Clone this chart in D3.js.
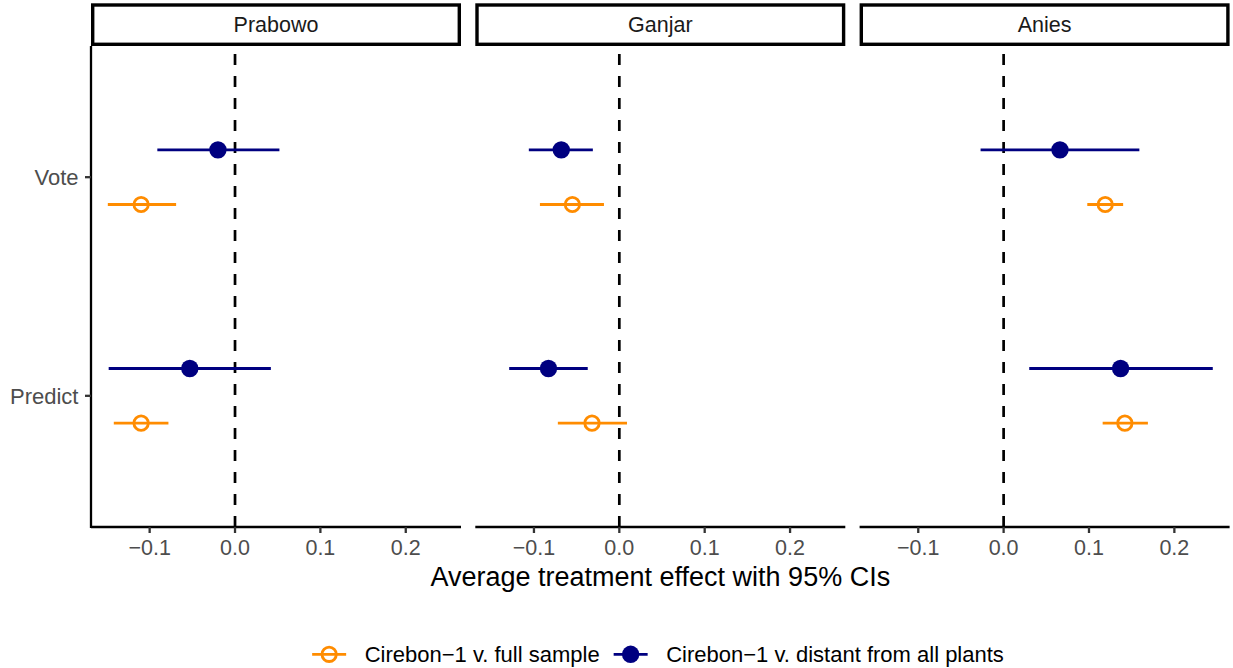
<!DOCTYPE html>
<html>
<head>
<meta charset="utf-8">
<script src="https://cdn.jsdelivr.net/npm/d3@7"></script>
<style>
  html, body { margin: 0; padding: 0; background: #fff; }
  svg { display: block; font-family: "Liberation Sans", Arial, Helvetica, sans-serif; }
</style>
</head>
<body>
<svg id="chart" width="1233" height="668"></svg>
<script>
// ---- Data ----
const candidates = ["Prabowo", "Ganjar", "Anies"];
const outcomes = ["Vote", "Predict"];
const seriesNames = ["Cirebon\u22121 v. full sample", "Cirebon\u22121 v. distant from all plants"];
const seriesColors = ["#FF8C00", "#000080"];
// values indexed [candidate][outcome] with outcome order Vote, Predict
const fullEst = [[-0.110, -0.110], [-0.055, -0.032], [0.119, 0.142]];
const fullLo  = [[-0.149, -0.142], [-0.093, -0.072], [0.098, 0.116]];
const fullHi  = [[-0.069, -0.078], [-0.018, 0.009], [0.140, 0.169]];
const distEst = [[-0.020, -0.053], [-0.068, -0.083], [0.066, 0.137]];
const distLo  = [[-0.091, -0.148], [-0.106, -0.129], [-0.027, 0.030]];
const distHi  = [[0.052, 0.042], [-0.031, -0.037], [0.159, 0.245]];
const xTicks = [-0.1, 0.0, 0.1, 0.2];
const axisTitle = "Average treatment effect with 95% CIs";

// ---- Build rows ----
const rows = [];
candidates.forEach((c, ci) => {
  outcomes.forEach((o, oi) => {
    rows.push({cand: c, outcome: o, series: 0, est: fullEst[ci][oi], lo: fullLo[ci][oi], hi: fullHi[ci][oi]});
    rows.push({cand: c, outcome: o, series: 1, est: distEst[ci][oi], lo: distLo[ci][oi], hi: distHi[ci][oi]});
  });
});

// ---- Layout ----
const svg = d3.select("#chart");
const panelW = 370, panelGap = 14.3, firstX = 91;
const plotTop = 46, plotBottom = 527;
const stripTop = 3.3;

const lo = d3.min(rows, d => d.lo), hi = d3.max(rows, d => d.hi);
const pad = (hi - lo) * 0.05;
const x = d3.scaleLinear().domain([lo - pad, hi + pad]).range([0, panelW]);
// discrete y: Predict = 1 (bottom), Vote = 2 (top), expanded 0.6
const yLevel = {Predict: 1, Vote: 2};
const y = d3.scaleLinear().domain([0.4, 2.6]).range([plotBottom, plotTop]);
const dodge = [-0.125, 0.125]; // full sample below, distant above

const fmt = d3.format(".1f");

candidates.forEach((cand, ci) => {
  const px = firstX + ci * (panelW + panelGap);
  const g = svg.append("g").attr("transform", `translate(${px},0)`);

  // strip
  g.append("rect")
    .attr("x", 1.7).attr("y", stripTop + 1.7)
    .attr("width", panelW - 3.4).attr("height", plotTop - stripTop - 3.4)
    .attr("fill", "#fff").attr("stroke", "#000").attr("stroke-width", 3.4);
  g.append("text")
    .attr("x", panelW / 2).attr("y", (stripTop + plotTop) / 2)
    .attr("dy", "0.35em").attr("text-anchor", "middle")
    .attr("font-size", 21.5).attr("fill", "#1A1A1A").text(cand);

  // zero reference line
  g.append("line")
    .attr("x1", x(0)).attr("x2", x(0))
    .attr("y1", plotBottom).attr("y2", plotTop)
    .attr("stroke", "#000").attr("stroke-width", 2.7)
    .attr("stroke-dasharray", "11,11");

  // error bars and points
  const pdata = rows.filter(r => r.cand === cand);
  g.selectAll("line.ci").data(pdata).enter().append("line")
    .attr("class", "ci")
    .attr("x1", d => x(d.lo)).attr("x2", d => x(d.hi))
    .attr("y1", d => y(yLevel[d.outcome] + dodge[d.series]))
    .attr("y2", d => y(yLevel[d.outcome] + dodge[d.series]))
    .attr("stroke", d => seriesColors[d.series]).attr("stroke-width", 2.8);
  g.selectAll("circle.pt").data(pdata).enter().append("circle")
    .attr("class", "pt")
    .attr("cx", d => x(d.est))
    .attr("cy", d => y(yLevel[d.outcome] + dodge[d.series]))
    .attr("r", d => d.series === 1 ? 8.7 : 7.2)
    .attr("fill", d => d.series === 1 ? seriesColors[1] : "none")
    .attr("stroke", d => seriesColors[d.series])
    .attr("stroke-width", d => d.series === 1 ? 0 : 2.8);

  // x axis
  const xa = g.append("g").attr("transform", `translate(0,${plotBottom})`);
  xa.append("line").attr("x1", 0).attr("x2", panelW).attr("y1", 0).attr("y2", 0)
    .attr("stroke", "#000").attr("stroke-width", 2.3);
  xa.selectAll("line.tick").data(xTicks).enter().append("line")
    .attr("class", "tick")
    .attr("x1", d => x(d)).attr("x2", d => x(d)).attr("y1", 0).attr("y2", 6)
    .attr("stroke", "#333").attr("stroke-width", 2.3);
  xa.selectAll("text").data(xTicks).enter().append("text")
    .attr("x", d => x(d)).attr("y", 28)
    .attr("text-anchor", "middle").attr("font-size", 21.5).attr("fill", "#4D4D4D")
    .text(d => fmt(d));

  // y axis only on first panel
  if (ci === 0) {
    g.append("line").attr("x1", 0).attr("x2", 0).attr("y1", plotTop).attr("y2", plotBottom + 1.1)
      .attr("stroke", "#000").attr("stroke-width", 2.3);
    outcomes.forEach(o => {
      g.append("line").attr("x1", -6).attr("x2", 0)
        .attr("y1", y(yLevel[o])).attr("y2", y(yLevel[o]))
        .attr("stroke", "#333").attr("stroke-width", 2.3);
      g.append("text").attr("x", -12.5).attr("y", y(yLevel[o])).attr("dy", "0.35em")
        .attr("text-anchor", "end").attr("font-size", 22).attr("fill", "#4D4D4D")
        .text(o);
    });
  }
});

// axis title
const totalRight = firstX + 3 * panelW + 2 * panelGap;
svg.append("text")
  .attr("x", (firstX + totalRight) / 2).attr("y", 586)
  .attr("text-anchor", "middle").attr("font-size", 27).attr("fill", "#000")
  .text(axisTitle);

// legend
const legY = 654.3, keyW = 34, keyGap = 18.5, itemGap = 14;
const leg = svg.append("g");
const items = seriesNames.map((name, i) => {
  const t = leg.append("text").attr("y", legY).attr("dy", "0.35em")
    .attr("font-size", 22).attr("fill", "#000").text(name);
  return {t, w: t.node().getComputedTextLength(), i};
});
const totalW = d3.sum(items, d => keyW + keyGap + d.w) + itemGap * (items.length - 1);
let cx = 658 - totalW / 2;
items.forEach(it => {
  const col = seriesColors[it.i];
  leg.append("line").attr("x1", cx).attr("x2", cx + keyW).attr("y1", legY).attr("y2", legY)
    .attr("stroke", col).attr("stroke-width", 2.8);
  leg.append("circle").attr("cx", cx + keyW / 2).attr("cy", legY)
    .attr("r", it.i === 1 ? 8.7 : 7.2)
    .attr("fill", it.i === 1 ? col : "none")
    .attr("stroke", col).attr("stroke-width", it.i === 1 ? 0 : 2.8);
  it.t.attr("x", cx + keyW + keyGap);
  cx += keyW + keyGap + it.w + itemGap;
});
</script>
</body>
</html>
